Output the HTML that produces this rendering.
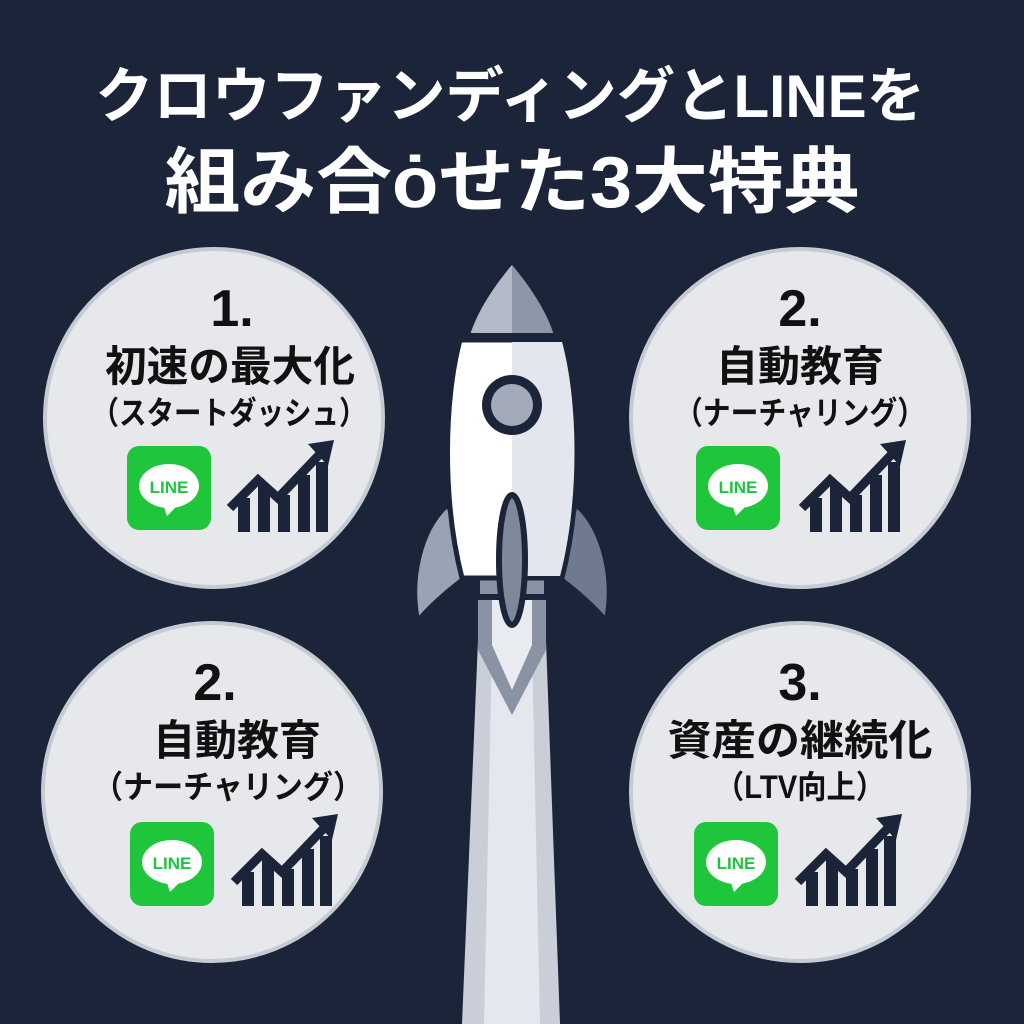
<!DOCTYPE html>
<html><head><meta charset="utf-8"><style>
html,body{margin:0;padding:0;background:#1b2439;}
svg{display:block}
text{font-family:"Liberation Sans","Noto Sans CJK JP",sans-serif;font-weight:bold;}
</style></head><body>
<svg width="1024" height="1024" viewBox="0 0 1024 1024" xmlns="http://www.w3.org/2000/svg">
<rect width="1024" height="1024" fill="#1b2439"/>
<text x="510" y="117" fill="#fff" font-size="60" text-anchor="middle" textLength="830" lengthAdjust="spacingAndGlyphs">クロウファンディングとLINEを</text>
<text x="512" y="207" fill="#fff" font-size="72" text-anchor="middle" textLength="695" lengthAdjust="spacingAndGlyphs">組み合ȯせた3大特典</text>

<polygon points="478,640 546,640 560,1024 462,1024" fill="#c9ced8"/>
<polygon points="492,650 532,650 540,1024 484,1024" fill="#e4e7ee"/>
<path d="M478,600 L546,600 L546,650 L512,715 L478,650 Z" fill="#8a93a6"/>
<path d="M492,600 L532,600 L532,645 L512,690 L492,645 Z" fill="#e8ebf0"/>
<path d="M448,505 C420,530 410,580 418,620 C435,600 455,585 468,575 Z" fill="#9aa3b4" stroke="#1b2439" stroke-width="4"/>
<path d="M576,505 C604,530 614,580 606,620 C589,600 569,585 556,575 Z" fill="#6f7a8f" stroke="#1b2439" stroke-width="4"/>
<rect x="478" y="578" width="68" height="18" fill="#8a93a6" stroke="#1b2439" stroke-width="4"/>
<path d="M460,340 L564,340 C580,400 582,500 562,578 L462,578 C442,500 444,400 460,340 Z" fill="#ffffff" stroke="#1b2439" stroke-width="5"/>
<path d="M512,342 L562,342 C578,400 580,500 560,576 L512,576 Z" fill="#e3e6ec"/>
<path d="M512,265 C495,285 478,310 470,335 L554,335 C546,310 529,285 512,265 Z" fill="#8e97a8"/>
<path d="M512,265 C495,285 478,310 470,335 L512,335 Z" fill="#b3bac7"/>
<rect x="466" y="333" width="92" height="8" fill="#1b2439"/>
<circle cx="512" cy="405" r="30" fill="#1b2439"/>
<circle cx="512" cy="405" r="21" fill="#a3abba"/>
<ellipse cx="512" cy="560" rx="13" ry="65" fill="#7f889b" stroke="#1b2439" stroke-width="6"/>

<g>
<circle cx="214" cy="418" r="169" fill="#e6e8ec" stroke="#c5cad3" stroke-width="4"/>
<circle cx="800" cy="418" r="169" fill="#e6e8ec" stroke="#c5cad3" stroke-width="4"/>
<circle cx="212" cy="792" r="169" fill="#e6e8ec" stroke="#c5cad3" stroke-width="4"/>
<circle cx="800" cy="792" r="169" fill="#e6e8ec" stroke="#c5cad3" stroke-width="4"/>
</g>

<g fill="#111">
<text x="232" y="326" font-size="52" text-anchor="middle">1.</text>
<text x="230" y="381" font-size="42" text-anchor="middle" textLength="250" lengthAdjust="spacingAndGlyphs">初速の最大化</text>
<text x="229" y="424" font-size="32" text-anchor="middle" textLength="275" lengthAdjust="spacingAndGlyphs">（スタートダッシュ）</text>

<text x="800" y="326" font-size="52" text-anchor="middle">2.</text>
<text x="800" y="381" font-size="42" text-anchor="middle">自動教育</text>
<text x="800" y="424" font-size="32" text-anchor="middle" textLength="250" lengthAdjust="spacingAndGlyphs">（ナーチャリング）</text>

<text x="215" y="700" font-size="52" text-anchor="middle">2.</text>
<text x="237" y="755" font-size="42" text-anchor="middle">自動教育</text>
<text x="228" y="798" font-size="32" text-anchor="middle" textLength="270" lengthAdjust="spacingAndGlyphs">（ナーチャリング）</text>

<text x="800" y="700" font-size="52" text-anchor="middle">3.</text>
<text x="800" y="755" font-size="42" text-anchor="middle" textLength="265" lengthAdjust="spacingAndGlyphs">資産の継続化</text>
<text x="800" y="798" font-size="32" text-anchor="middle" textLength="170" lengthAdjust="spacingAndGlyphs">（LTV向上）</text>
</g>

<defs>
<g id="line">
<rect x="0" y="0" width="84" height="84" rx="12" fill="#1fc53a"/>
<ellipse cx="42" cy="40" rx="30" ry="22" fill="#fff"/>
<path d="M36,58 L40,70 L52,58 Z" fill="#fff"/>
<text x="42" y="47" font-size="17" fill="#1fc53a" text-anchor="middle">LINE</text>
</g>
<g id="chart" fill="#1b2439">
<rect x="10" y="58" width="12" height="34"/>
<rect x="30" y="45" width="12" height="47"/>
<rect x="50" y="55" width="12" height="37"/>
<rect x="70" y="35" width="12" height="57"/>
<rect x="88" y="22" width="12" height="70"/>
<polyline points="2,68 30,40 50,58 92,14" fill="none" stroke="#1b2439" stroke-width="9"/>
<polygon points="80,4 106,0 100,26"/>
</g>
</defs>
<use href="#line" x="127" y="446"/>
<use href="#chart" x="228" y="440"/>
<use href="#line" x="696" y="446"/>
<use href="#chart" x="800" y="440"/>
<use href="#line" x="130" y="822"/>
<use href="#chart" x="232" y="814"/>
<use href="#line" x="694" y="822"/>
<use href="#chart" x="796" y="814"/>
</svg>
</body></html>
